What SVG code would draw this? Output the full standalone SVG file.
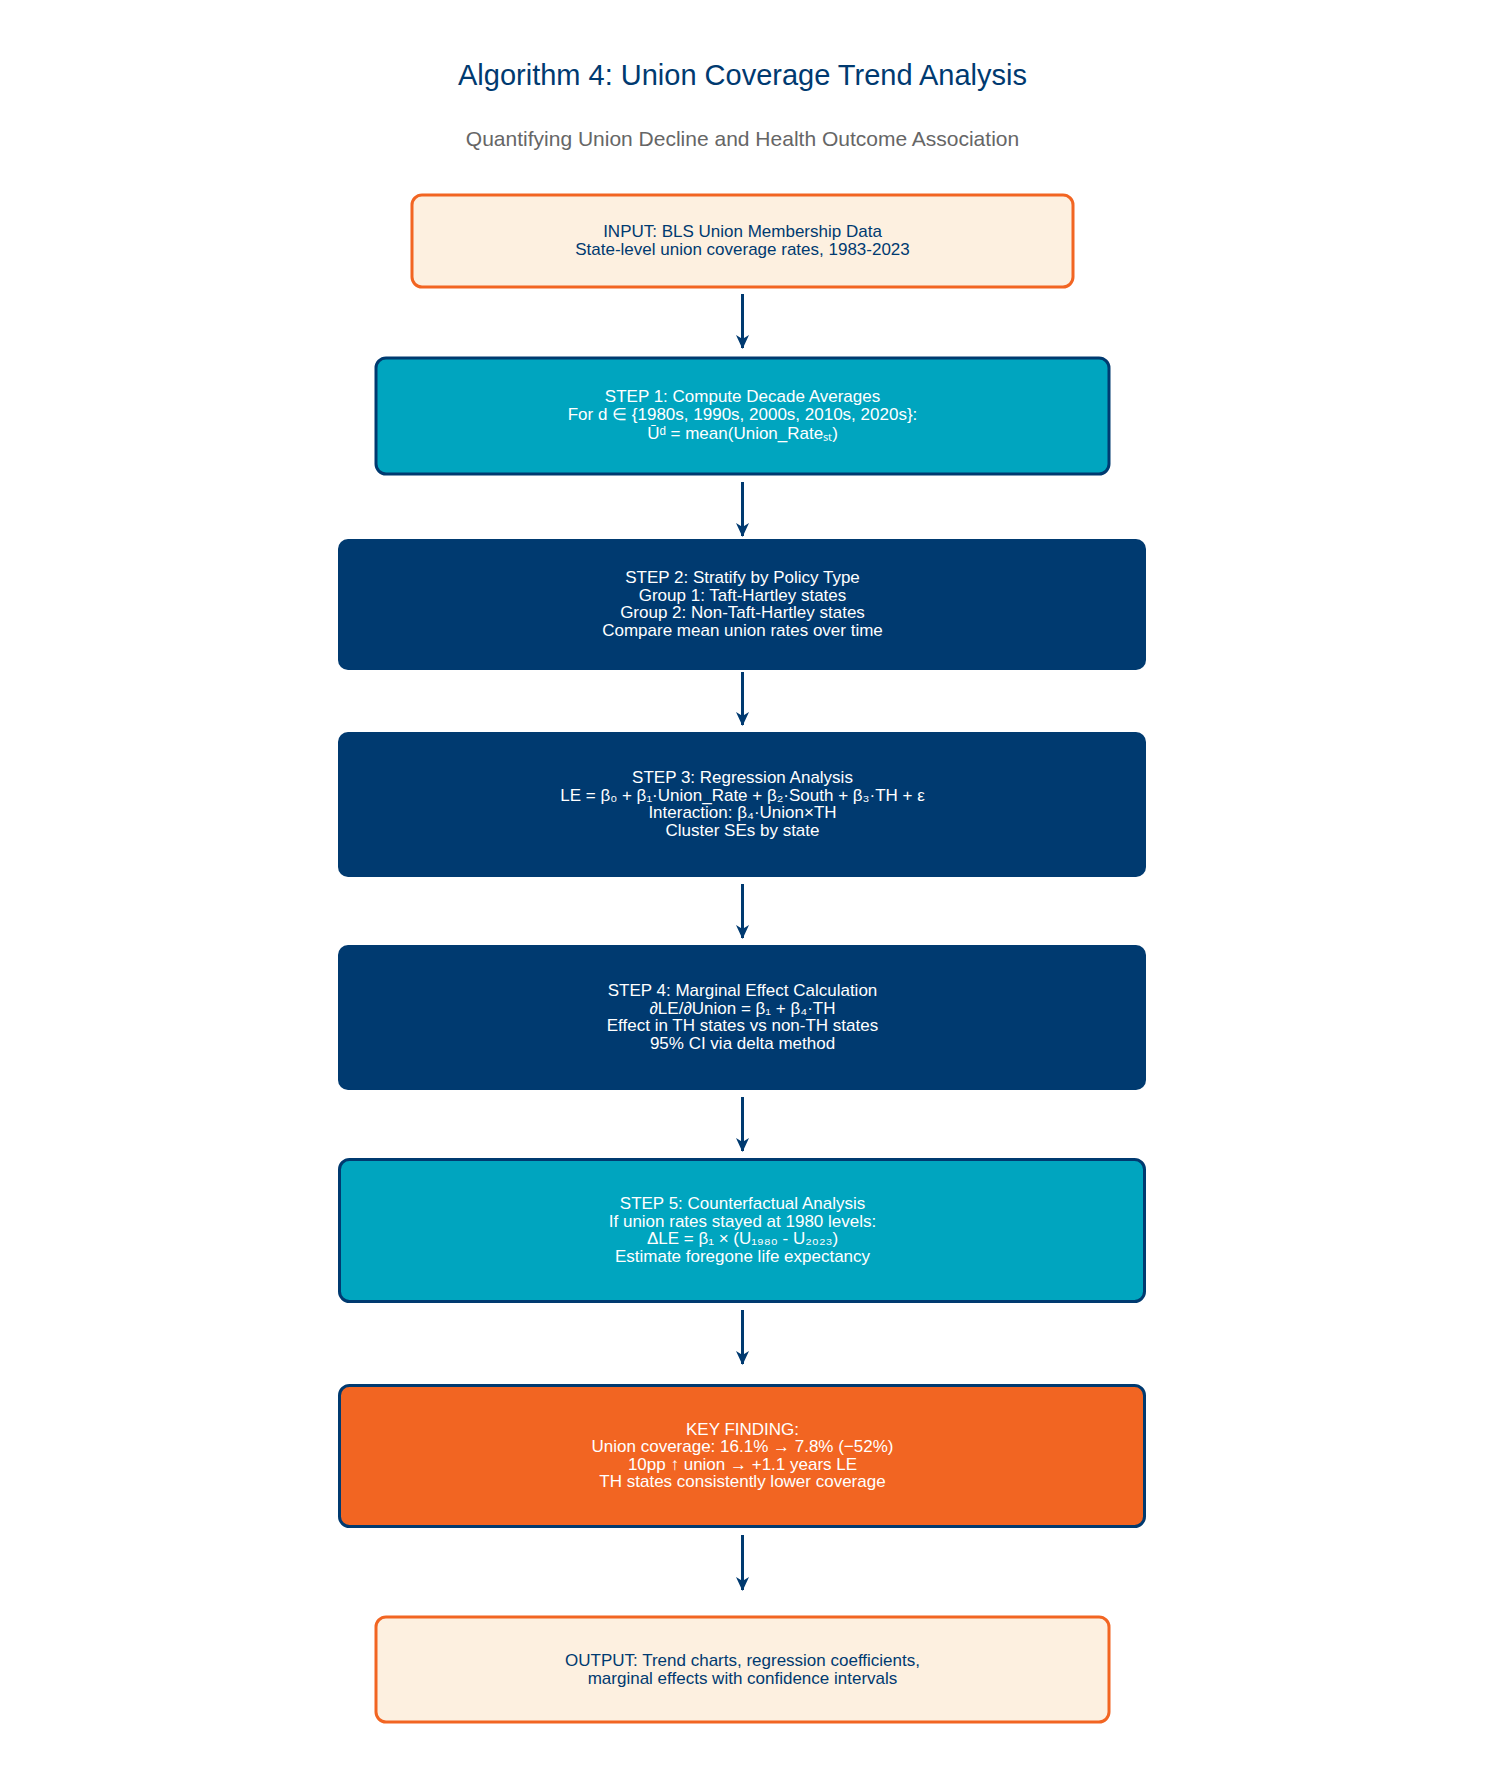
<svg xmlns="http://www.w3.org/2000/svg" width="1485" height="1785" viewBox="0 0 1485 1785">
<style>
  text { font-family: "Liberation Sans", Arial, Helvetica, sans-serif; text-anchor: middle; }
  .title { font-size: 29px; fill: #003A70; }
  .sub { font-size: 21px; fill: #666666; }
  .t { font-size: 17px; }
  .dark { fill: #003A70; }
  .light { fill: #FFFFFF; }
  .io { fill: #FDF0E0; stroke: #F26522; stroke-width: 3; }
  .teal { fill: #00A5BF; stroke: #003A70; stroke-width: 3; }
  .navy { fill: #003A70; }
  .key { fill: #F26522; stroke: #003A70; stroke-width: 3; }
  .conn { stroke: #003A70; stroke-width: 3; fill: none; marker-end: url(#ah); }
</style>
<defs>
  <marker id="ah" viewBox="0 0 14 14" refX="13" refY="7" markerWidth="14" markerHeight="14" markerUnits="userSpaceOnUse" orient="auto">
    <path d="M0,0.5 L14,7 L0,13.5 L4,7 z" fill="#003A70"/>
  </marker>
</defs>
<rect width="1485" height="1785" fill="#FFFFFF"/>
<text class="title" x="742.5" y="85">Algorithm 4: Union Coverage Trend Analysis</text>
<text class="sub" x="742.5" y="146">Quantifying Union Decline and Health Outcome Association</text>

<g id="connectors">
  <line class="conn" x1="742.5" y1="294" x2="742.5" y2="348"/>
  <line class="conn" x1="742.5" y1="482" x2="742.5" y2="536"/>
  <line class="conn" x1="742.5" y1="672" x2="742.5" y2="725"/>
  <line class="conn" x1="742.5" y1="884" x2="742.5" y2="938"/>
  <line class="conn" x1="742.5" y1="1097" x2="742.5" y2="1151"/>
  <line class="conn" x1="742.5" y1="1310" x2="742.5" y2="1364"/>
  <line class="conn" x1="742.5" y1="1535" x2="742.5" y2="1590"/>
</g>

<g id="input">
  <rect class="io" x="412" y="195" width="661" height="92" rx="10"/>
  <text class="t dark" x="742.5" y="237">INPUT: BLS Union Membership Data</text>
  <text class="t dark" x="742.5" y="255">State-level union coverage rates, 1983-2023</text>
</g>

<g id="step1">
  <rect class="teal" x="376" y="358" width="733" height="116" rx="10"/>
  <text class="t light" x="742.5" y="402">STEP 1: Compute Decade Averages</text>
  <text class="t light" x="742.5" y="420">For d ∈ {1980s, 1990s, 2000s, 2010s, 2020s}:</text>
  <text class="t light" x="742.5" y="439">Ūᵈ = mean(Union_Rateₛₜ)</text>
</g>

<g id="step2">
  <rect class="navy" x="338" y="539" width="808" height="131" rx="10"/>
  <text class="t light" x="742.5" y="583">STEP 2: Stratify by Policy Type</text>
  <text class="t light" x="742.5" y="601">Group 1: Taft-Hartley states</text>
  <text class="t light" x="742.5" y="618">Group 2: Non-Taft-Hartley states</text>
  <text class="t light" x="742.5" y="636">Compare mean union rates over time</text>
</g>

<g id="step3">
  <rect class="navy" x="338" y="732" width="808" height="145" rx="10"/>
  <text class="t light" x="742.5" y="783">STEP 3: Regression Analysis</text>
  <text class="t light" x="742.5" y="801">LE = β₀ + β₁·Union_Rate + β₂·South + β₃·TH + ε</text>
  <text class="t light" x="742.5" y="818">Interaction: β₄·Union×TH</text>
  <text class="t light" x="742.5" y="836">Cluster SEs by state</text>
</g>

<g id="step4">
  <rect class="navy" x="338" y="945" width="808" height="145" rx="10"/>
  <text class="t light" x="742.5" y="996">STEP 4: Marginal Effect Calculation</text>
  <text class="t light" x="742.5" y="1014">∂LE/∂Union = β₁ + β₄·TH</text>
  <text class="t light" x="742.5" y="1031">Effect in TH states vs non-TH states</text>
  <text class="t light" x="742.5" y="1049">95% CI via delta method</text>
</g>

<g id="step5">
  <rect class="teal" x="339.5" y="1159.5" width="805" height="142" rx="10"/>
  <text class="t light" x="742.5" y="1209">STEP 5: Counterfactual Analysis</text>
  <text class="t light" x="742.5" y="1227">If union rates stayed at 1980 levels:</text>
  <text class="t light" x="742.5" y="1244">ΔLE = β₁ × (U₁₉₈₀ - U₂₀₂₃)</text>
  <text class="t light" x="742.5" y="1262">Estimate foregone life expectancy</text>
</g>

<g id="keyfinding">
  <rect class="key" x="339.5" y="1385.5" width="805" height="141" rx="10"/>
  <text class="t light" x="742.5" y="1435">KEY FINDING:</text>
  <text class="t light" x="742.5" y="1452">Union coverage: 16.1% → 7.8% (−52%)</text>
  <text class="t light" x="742.5" y="1470">10pp ↑ union → +1.1 years LE</text>
  <text class="t light" x="742.5" y="1487">TH states consistently lower coverage</text>
</g>

<g id="output">
  <rect class="io" x="376" y="1617" width="733" height="105" rx="10"/>
  <text class="t dark" x="742.5" y="1666">OUTPUT: Trend charts, regression coefficients,</text>
  <text class="t dark" x="742.5" y="1684">marginal effects with confidence intervals</text>
</g>
</svg>
